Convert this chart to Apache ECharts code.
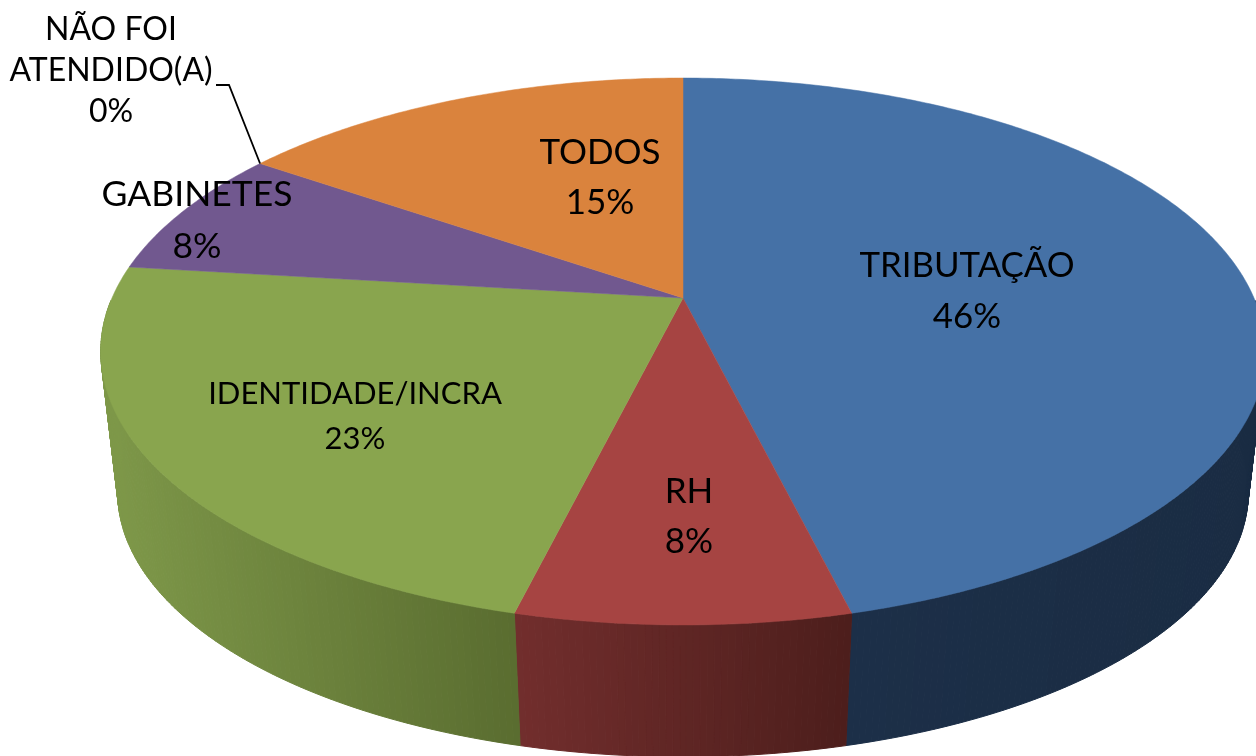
<!DOCTYPE html>
<html>
<head>
<meta charset="utf-8">
<style>
  html, body { margin: 0; padding: 0; background: #fff; overflow: hidden; }
  #chart { width: 1256px; height: 756px; }
</style>
<script src="https://cdn.jsdelivr.net/npm/echarts@6/dist/echarts.min.js"></script>
</head>
<body>
<div id="chart"></div>
<script>
  // data, clockwise from 12 o'clock
  var categories = ['TRIBUTAÇÃO', 'RH', 'IDENTIDADE/INCRA', 'GABINETES', 'NÃO FOI\nATENDIDO(A)', 'TODOS']
  var counts = [6, 1, 3, 1, 0, 2]

  // styles
  var topColors = ['#4571a6', '#a64442', '#89a54e', '#71588f', '#4198af', '#da833d']
  var wallColors = [
    ['#1c2f48', '#1a2c43'],
    ['#722e2d', '#4d1e1c'],
    ['#7e9849', '#5a6d30'],
    ['#3f3050', '#3f3050'],
    ['#245562', '#245562'],
    ['#7a4a22', '#7a4a22']
  ]
  // label centre and font size, by slice
  var labelX = [967, 689, 355, 197, 111, 600]
  var labelY = [291, 517, 416, 221, 71, 178]
  var labelSize = [34.8, 35, 31, 35.5, 32, 35]
  var labelLine = [51, 50, 45, 52, 41, 50]

  // perspective disc: rim of the top face and rim of the base
  var topRim = { cx: 683, cy: 298, rx: 571, ry: 263, k: 0.1956 }
  var baseRim = { cx: 683, cy: 442, rx: 555, ry: 255, k: 0.19 }

  var total = counts.reduce(function (a, b) { return a + b }, 0)
  var startAngles = []
  var run = 0
  for (var i = 0; i < counts.length; i++) {
    startAngles.push(run / total * Math.PI * 2)
    run += counts[i]
  }

  function project(rim, t, r) {
    var x = Math.sin(t) * r
    var y = -Math.cos(t) * r
    var p = 1 / (1 - rim.k * y)
    return [rim.cx + rim.rx * x * p, rim.cy + rim.ry * y * p]
  }

  function arc(rim, from, to) {
    var pts = []
    var n = Math.max(2, Math.ceil((to - from) / 0.01))
    for (var i = 0; i <= n; i++) {
      pts.push(project(rim, from + (to - from) * i / n, 1))
    }
    return pts
  }

  function sliceRange(idx) {
    var from = startAngles[idx]
    return [from, from + counts[idx] / total * Math.PI * 2]
  }

  // wall is a run of thin quads between the two rims, so it also fills the
  // straight silhouette at the far left and right; shaded left to right.
  // only the front half of the disc can show a wall
  function renderWall(params, api) {
    var idx = params.dataIndex
    var r = sliceRange(idx)
    if (r[1] <= r[0]) return null
    var a = arc(topRim, r[0], r[1])
    var b = arc(baseRim, r[0], r[1])
    var cy = topRim.cy
    var front = a.filter(function (p) { return p[1] > cy })
    if (!front.length) return null
    var left = Infinity, right = -Infinity
    front.forEach(function (p) {
      if (p[0] < left) left = p[0]
      if (p[0] > right) right = p[0]
    })
    var quads = []
    for (var i = 0; i < a.length - 1; i++) {
      if (a[i][1] <= cy || a[i + 1][1] <= cy) continue
      var f = (a[i][0] - left) / (right - left)
      var c = echarts.color.lerp(f, wallColors[idx])
      quads.push({
        type: 'polygon',
        shape: { points: [a[i], a[i + 1], b[i + 1], b[i]] },
        style: { fill: c, stroke: c, lineWidth: 1 }
      })
    }
    return { type: 'group', children: quads }
  }

  function renderTop(params, api) {
    var idx = params.dataIndex
    var r = sliceRange(idx)
    if (r[1] <= r[0]) return null
    var pts = [project(topRim, 0, 0)].concat(arc(topRim, r[0], r[1]))
    return { type: 'polygon', shape: { points: pts }, style: { fill: topColors[idx], stroke: topColors[idx], lineWidth: 0.5 } }
  }

  function renderLabel(params, api) {
    var idx = params.dataIndex
    var pct = Math.round(api.value(1) / total * 100)
    return {
      type: 'text',
      style: {
        text: categories[idx] + '\n' + pct + '%',
        x: labelX[idx],
        y: labelY[idx],
        align: 'center',
        verticalAlign: 'middle',
        fontFamily: 'Lato',
        fontSize: labelSize[idx],
        lineHeight: labelLine[idx],
        fill: '#000'
      }
    }
  }

  // leader for the empty slice, from its label to its place on the rim
  function renderLeader(params, api) {
    var idx = params.dataIndex
    if (api.value(1) !== 0) return null
    var end = project(topRim, startAngles[idx], 1)
    return {
      type: 'polyline',
      shape: { points: [[216, 85], [229, 85], end] },
      style: { stroke: '#000', lineWidth: 1.8, fill: null }
    }
  }

  var seriesData = counts.map(function (v, i) { return [i, v] })

  var chart = echarts.init(document.getElementById('chart'), null, { renderer: 'canvas' })
  chart.setOption({
    animation: false,
    backgroundColor: '#fff',
    series: [
      { type: 'custom', coordinateSystem: 'none', renderItem: renderWall, data: seriesData, z: 1, silent: true },
      { type: 'custom', coordinateSystem: 'none', renderItem: renderTop, data: seriesData, z: 2, silent: true },
      { type: 'custom', coordinateSystem: 'none', renderItem: renderLeader, data: seriesData, z: 3, silent: true },
      { type: 'custom', coordinateSystem: 'none', renderItem: renderLabel, data: seriesData, z: 4, silent: true }
    ]
  })
</script>
</body>
</html>
